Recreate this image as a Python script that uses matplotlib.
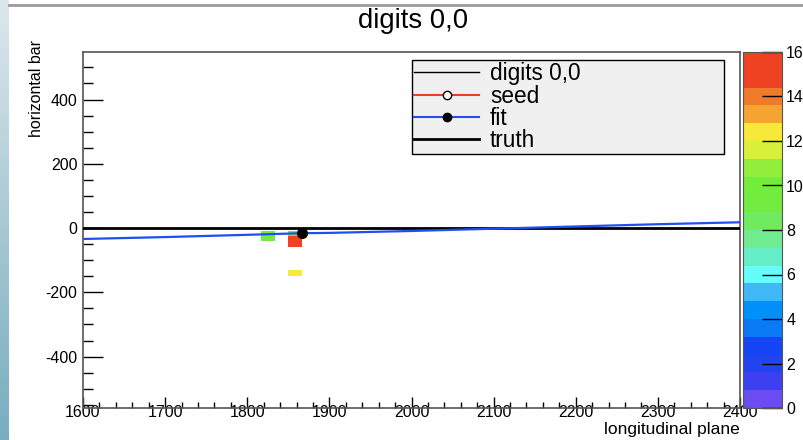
import numpy as np
import matplotlib
matplotlib.use("Agg")
import matplotlib.pyplot as plt
from matplotlib.colors import ListedColormap, BoundaryNorm, LinearSegmentedColormap

plt.rcParams['font.family'] = ['Liberation Sans', 'DejaVu Sans']
plt.rcParams['axes.unicode_minus'] = False

# palette of the z axis (20 levels from 0 to 16)
palette = ['#6a4cf0', '#3d40f0', '#2244f0', '#1446f5', '#0a7af5',
           '#0090fa', '#40b8f8', '#66fcfc', '#66eec8', '#70ec90',
           '#70ea60', '#72ec40', '#72ee3a', '#92ee3a', '#d8f03a',
           '#f8e83a', '#f5a432', '#f07a2a', '#ee4222', '#ee4222']
z_min, z_max = 0, 16

# digit cells: x bin centre, y bin centre, content
cell_x = [1825.0, 1825.0, 1858.3, 1858.3, 1858.3, 1858.3]
cell_y = [-16.7, -33.4, -16.7, -33.4, -50.1, -140.3]
cell_z = [9.0, 9.0, 9.0, 15.0, 15.0, 12.5]
cell_dx = 16.7
cell_dy = 16.7

# fit track
fit_x = [1600, 1700, 1800, 1866.7, 1900, 2000, 2100, 2200, 2300, 2400]
fit_y = [-34, -28, -21, -16, -15, -9, -2, 5, 12, 18]
fit_pt_x = [1866.7]
fit_pt_y = [-15.5]

# truth
truth_x = [1600, 2400]
truth_y = [0, 0]

fig = plt.figure(figsize=(8.04, 4.40), dpi=100)

# screenshot decoration: left gradient strip and top rule
strip = fig.add_axes([0, 0, 9 / 804, 1])
grad = np.linspace(0, 1, 100).reshape(-1, 1)
strip.imshow(grad, aspect='auto', origin='upper',
             cmap=LinearSegmentedColormap.from_list('g', ['#dce7ec', '#a9c9d4', '#78aebf']))
strip.axis('off')
fig.add_artist(plt.Line2D([9 / 804, 1], [1 - 5 / 440, 1 - 5 / 440], color='#9a9a9a', lw=2))

ax = fig.add_axes([83 / 804, 1 - 408 / 440, 657 / 804, 356 / 440])
cmap = ListedColormap(palette)
norm = BoundaryNorm(np.linspace(z_min, z_max, len(palette) + 1), cmap.N)

for x, y, z in zip(cell_x, cell_y, cell_z):
    ax.bar(x, cell_dy, width=cell_dx, bottom=y - cell_dy / 2,
           color=cmap(norm(z)), linewidth=0, zorder=2)

ax.plot(truth_x, truth_y, color='black', lw=2, zorder=3)
ax.plot(fit_x, fit_y, color='#1f4ff0', lw=1.6, zorder=4)
ax.plot(fit_pt_x, fit_pt_y, 'o', color='black', ms=7, zorder=5)

ax.set_xlim(1600, 2400)
ax.set_ylim(-560, 548)
ax.set_xticks(np.arange(1600, 2401, 100))
ax.set_xticks(np.arange(1600, 2401, 20), minor=True)
ax.set_yticks(np.arange(-400, 401, 200))
ax.set_yticks(np.arange(-550, 548, 50), minor=True)
ax.tick_params(axis='both', which='both', direction='in', labelsize=11.5, colors='black', width=1)
ax.tick_params(axis='y', which='major', length=14.4, pad=4)
ax.tick_params(axis='y', which='minor', length=7.2)
ax.tick_params(axis='x', which='major', length=8, pad=-2)
ax.tick_params(axis='x', which='minor', length=4.3)
for s in ax.spines.values():
    s.set_color('#555555')
    s.set_linewidth(1.2)

fig.text(413 / 804, 1 - 21 / 440, 'digits 0,0', fontsize=19.8, ha='center', va='center')
fig.text(740 / 804, 1 - 429 / 440, 'longitudinal plane', fontsize=12.5, ha='right', va='center')
fig.text(37 / 804, 1 - 40 / 440, 'horizontal bar', fontsize=11.5, rotation=90,
         ha='center', va='top')

# legend
h_dig, = ax.plot([], [], color='black', lw=1)
h_seed, = ax.plot([], [], color='#ee3b2a', lw=1.5, marker='o', mfc='white', mec='black', ms=6)
h_fit, = ax.plot([], [], color='#1f4ff0', lw=1.5, marker='o', mfc='black', mec='black', ms=6)
h_truth, = ax.plot([], [], color='black', lw=2)
leg = ax.legend([h_dig, h_seed, h_fit, h_truth], ['digits 0,0', 'seed', 'fit', 'truth'],
                loc='upper left', bbox_to_anchor=(329 / 657, 1 - 8 / 356, 312 / 657, 0),
                mode='expand', fontsize=16.3, fancybox=False, framealpha=1,
                facecolor='#f0f0f0', edgecolor='black',
                handlelength=2.85, handletextpad=0.5, borderpad=0.1, labelspacing=-0.03,
                borderaxespad=0)
leg.get_frame().set_linewidth(1)
leg.set_zorder(10)

cax = fig.add_axes([743 / 804, 1 - 408 / 440, 39 / 804, 356 / 440])
sm = plt.cm.ScalarMappable(norm=norm, cmap=cmap)
cb = fig.colorbar(sm, cax=cax, ticks=np.arange(0, 17, 2))
cb.outline.set_edgecolor('#555555')
cax.tick_params(direction='in', length=14.4, width=1, labelsize=11.5, pad=3)
cax.minorticks_off()

fig.savefig('out.png', dpi=100)
